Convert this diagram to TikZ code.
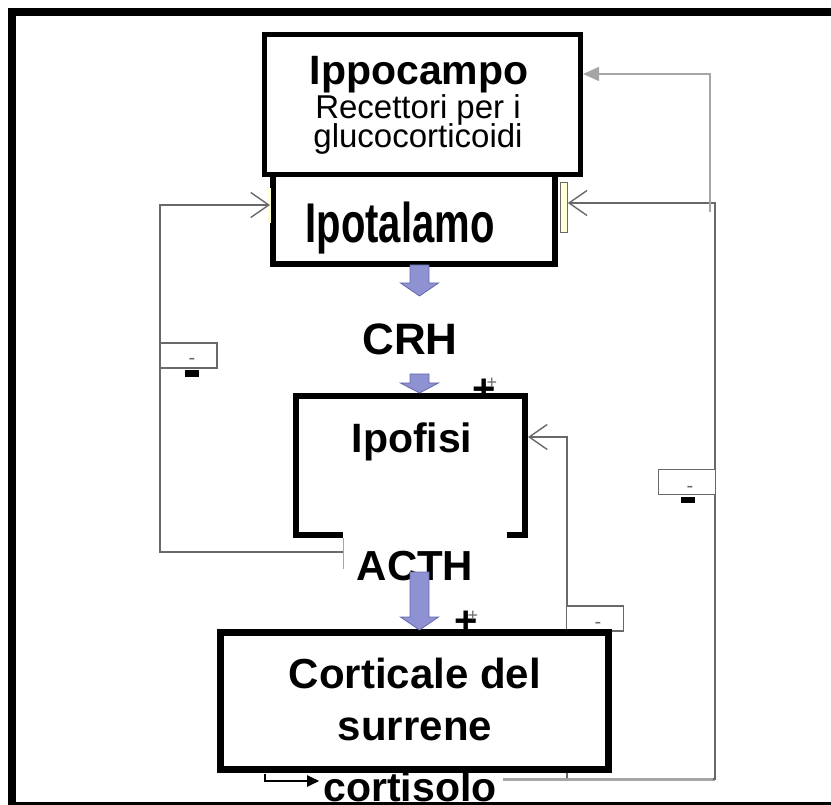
\documentclass[tikz,border=0pt]{standalone}
\usepackage{fontspec}
\setmainfont{Liberation Sans}
\usetikzlibrary{arrows.meta,calc}

\definecolor{fbgray}{RGB}{105,105,105}
\definecolor{ltgray}{RGB}{165,165,165}
\definecolor{flowfill}{RGB}{143,146,210}
\definecolor{flowline}{RGB}{100,104,170}
\definecolor{cream}{RGB}{255,255,215}

\newcommand{\fsz}[1]{\fontsize{#1}{#1}\selectfont}

\tikzset{
  organ/.style={draw=black, line width=6pt, fill=white, inner sep=0pt},
  lbl/.style={anchor=base, inner sep=0pt, font=\fsz{41}\bfseries},
  sublbl/.style={anchor=base, inner sep=0pt, font=\fsz{33}},
  feedback/.style={draw=fbgray, line width=1.4pt},
  openhead/.style={-{Straight Barb[length=18pt,width=25pt,line width=1.4pt]}},
  signbox/.style={draw=fbgray, line width=1.5pt, fill=white, inner sep=0pt,
                  minimum width=57pt, minimum height=25pt},
  tinydash/.style={anchor=base, inner sep=0pt, text=fbgray, font=\fsz{20}},
  bigplus/.style={inner sep=0pt, font=\fsz{40}\bfseries},
  smallplus/.style={inner sep=0pt, text=fbgray, font=\fsz{18}},
  pics/flowdown/.style n args={2}{code={
    % #1 overall length, #2 length of the head
    \filldraw[fill=flowfill, draw=flowline, line width=0.8pt]
      (-9.5,0) -- (9.5,0) -- (9.5,{#1-#2}) -- (19,{#1-#2}) -- (0,#1)
      -- (-19,{#1-#2}) -- (-9.5,{#1-#2}) -- cycle;
  }}
}

\begin{document}
\begin{tikzpicture}[x=1pt,y=-1pt]
\useasboundingbox (0,0) rectangle (831,805);

% page frame
\draw[line width=8pt] (12,805) -- (12,12) -- (831,12);
\draw[line width=2.5pt] (12,803.5) -- (831,803.5);

% corner points of the feedback loops
\coordinate (lbot) at (160,552);
\coordinate (ltop) at (160,205);
\coordinate (rbot) at (715,779);
\coordinate (rtop) at (715,203);
\coordinate (hbot) at (710,212);
\coordinate (htop) at (710,74);
\coordinate (pbot) at (567,779);
\coordinate (ptop) at (567,437);
\coordinate (carrow) at (265,781);

% organs
\node[organ, minimum width=282pt, minimum height=104pt] (ipot) at (414,212) {};
\node[draw=fbgray, line width=0.6pt, fill=cream, inner sep=0pt,
      minimum width=7pt, minimum height=50pt] (ipotmark) at (564,207) {};
\node[draw=none, fill=cream, inner sep=0pt,
      minimum width=3pt, minimum height=35pt] (ipotmarkl) at (269.5,205.5) {};
\node[organ, line width=5pt, minimum width=316pt, minimum height=140pt] (hip) at (422.5,104.5) {};
\node[organ, minimum width=229pt, minimum height=139pt] (ipof) at (410.5,465.5) {};
\node[fill=white, inner sep=0pt, minimum width=164pt, minimum height=65pt,
      anchor=north west] (acthbg) at (343,532) {};
\draw[ltgray, line width=0.8pt] ($(acthbg.north west)+(0,6)$) -- ($(acthbg.north west)+(0,37)$);

% feedback loops
\draw[feedback, openhead] (acthbg.west |- lbot) -- (lbot) -- (ltop) -- (ltop -| ipot.west);
\draw[feedback, openhead] (rbot) -- (rtop) -- (rtop -| ipotmark.east);
\draw[ltgray, line width=1.4pt, -{Triangle[length=16pt,width=14pt]}]
  (hbot) -- (htop) -- (htop -| hip.east);
\draw[feedback, openhead] (pbot) -- (ptop) -- (ptop -| ipof.east);
\draw[ltgray, line width=3pt] ($(rbot)+(-212,0)$) -- (rbot);
\draw[fbgray, line width=1.4pt] ($(rbot)+(-2,0)$) -- (rbot) -- ($(rbot)+(0,-4)$);

% sign boxes on the loops
\node[signbox] (minl) at (188.5,355.5) {};
\node[tinydash] (minlt) at (192,365) {-};
\fill (185,370) rectangle (199,377);
\node[signbox] (minr) at (687,482) {};
\node[tinydash] (minrt) at (690,492) {-};
\fill (681,497) rectangle (695,503);
\node[signbox] (minb) at (595,618.5) {};
\node[tinydash] (minbt) at (598,628) {-};

\node[organ, line width=6.5pt, minimum width=388pt, minimum height=137pt] (cort) at (414.5,701) {};

% labels
\node[lbl] (hipt) at (419,85) {Ippocampo};
\node[sublbl] (hipr) at (418,119) {Recettori per i};
\node[sublbl] (hipg) at (418,148) {glucocorticoidi};
\node[anchor=base, inner sep=0pt] (ipott) at (400,243)
  {\scalebox{1}[1.4]{\fsz{40}\bfseries Ipotalamo}};
\node[lbl, font=\fsz{44}\bfseries] (crh) at (410,355) {CRH};
\node[lbl] (ipoft) at (412,453) {Ipofisi};
\node[lbl, font=\fsz{42}\bfseries] (acth) at (415,580) {ACTH};
\node[lbl, font=\fsz{42}\bfseries] (cortt) at (415,688) {Corticale del};
\node[lbl, font=\fsz{42}\bfseries] (cortu) at (415,740) {surrene};
\node[lbl] (cortisolo) at (410,801) {cortisolo};

% cortisol output
\draw[black, line width=1.8pt, -{Triangle[length=12pt,width=11pt]}]
  ($(carrow)+(0,-7)$) -- (carrow) -- ($(carrow -| cortisolo.west)+(-4,0)$);

% main axis arrows
\pic at (419.5,265) {flowdown={31}{13}};
\pic at (419.5,374) {flowdown={19}{10}};
\pic at (419.5,572) {flowdown={58}{13}};

% stimulation marks
\node[bigplus] (plus1) at (484,391) {+};
\node[smallplus] (plus1s) at (492,383) {+};
\node[bigplus] (plus2) at (466,623) {+};
\node[smallplus] (plus2s) at (473,616) {+};
\end{tikzpicture}
\end{document}
